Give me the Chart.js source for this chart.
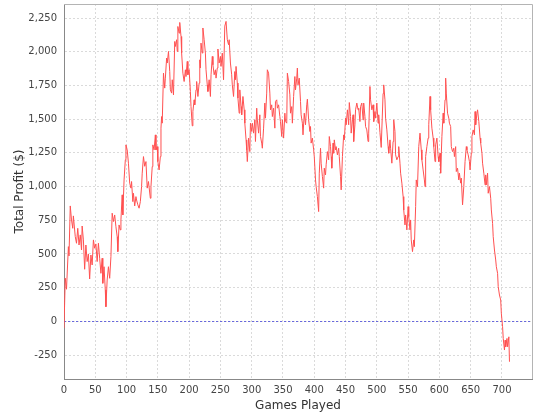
<!DOCTYPE html>
<html><head><meta charset="utf-8">
<script src="https://cdn.jsdelivr.net/npm/chart.js@4/dist/chart.umd.min.js"></script>
<style>html,body{margin:0;padding:0;background:#fff}</style>
</head><body>
<canvas id="c" width="540" height="420"></canvas>
<script>
const xTitle = 'Games Played';
const yTitle = 'Total Profit ($)';
const xTicks = [0,50,100,150,200,250,300,350,400,450,500,550,600,650,700];
const yTicks = [-250,0,250,500,750,1000,1250,1500,1750,2000,2250];

const games = [
0,2,4,7,8,10,12,14,15,18,20,22,24,26,28,29,31,33,35,37,39,41,43,45,47,49,51,53,55,57,59,61,62,64,66,67,69,71,73,75,77,79,81,83,85,86,88,90,91,93,94,96,98,99,
101,103,105,107,108,110,111,113,115,116,118,120,122,124,125,127,129,131,133,135,138,139,141,142,144,146,147,149,150,152,154,155,156,157,159,161,162,164,165,167,169,170,172,173,175,177,178,180,181,182,184,185,187,188,190,192,194,195,197,198,200,
202,203,205,206,208,209,211,212,214,216,217,218,219,221,222,224,226,227,229,230,232,234,235,237,238,240,242,243,245,246,248,250,251,253,255,257,259,261,263,264,266,268,269,271,273,274,275,277,278,280,281,283,284,286,288,289,291,292,293,295,297,298,300,
301,303,305,306,308,309,311,313,314,316,317,319,321,322,324,325,327,329,330,332,333,335,337,338,340,341,343,345,346,348,349,351,353,354,356,357,359,361,362,364,365,367,369,370,372,373,374,376,378,379,381,382,384,386,388,389,391,393,394,395,397,399,400,
402,403,405,407,408,410,411,413,415,416,418,419,421,423,424,426,427,428,430,431,432,434,435,437,439,440,442,443,445,447,448,450,451,453,455,456,458,459,461,462,463,465,466,468,470,471,473,474,476,478,479,481,482,484,486,487,489,490,492,494,495,497,498,500,
502,503,505,507,510,511,513,514,516,518,519,521,522,524,526,527,529,530,532,534,535,537,538,540,542,543,545,546,548,550,551,553,554,555,557,559,560,562,563,565,567,568,569,571,572,574,576,577,578,580,582,583,585,586,588,590,591,593,594,596,598,599,
601,602,604,606,607,609,610,611,613,615,616,618,619,621,623,624,626,627,629,631,632,634,635,637,639,641,643,644,646,648,649,651,652,654,656,657,658,660,661,663,665,666,668,669,671,673,674,675,677,678,680,682,683,685,686,688,690,691,693,694,696,698,699,
701,702,704,705,706,708,709,711,712
];
const profit = [
-50,320,238,554,485,856,752,690,782,628,579,690,566,641,529,707,604,386,566,443,500,314,492,418,604,542,574,443,579,468,356,468,282,405,232,108,306,405,319,480,802,740,789,702,628,517,715,678,752,938,789,1049,1198,1309,
1272,1173,1025,988,1037,888,950,856,925,900,864,839,888,1000,1099,1222,1150,1185,988,1037,913,999,1148,1309,1272,1383,1272,1296,1185,1123,1222,1433,1519,1470,1841,1730,1804,1953,1916,2002,1853,1717,1693,1792,1680,2076,2039,2089,2002,2187,2138,2217,2113,1990,1841,1779,1866,1816,1928,1829,1866,
1705,1593,1450,1556,1643,1606,1717,1779,1668,1767,1940,1879,2064,1990,2176,2089,1990,1866,1754,1705,1792,1668,1829,1965,1903,1829,1866,1804,1879,2020,1916,1965,1891,1990,1792,2190,2225,2089,2052,2089,1916,1829,1754,1668,1853,1792,1891,1767,1656,1544,1717,1593,1532,1668,1569,1470,1346,1272,1185,1359,1259,1470,1408,
1470,1396,1495,1334,1581,1495,1396,1532,1371,1322,1284,1433,1619,1507,1693,1866,1841,1693,1569,1606,1519,1581,1433,1631,1643,1581,1606,1519,1482,1371,1495,1359,1544,1482,1470,1841,1779,1680,1544,1593,1470,1668,1816,1717,1804,1879,1754,1804,1631,1532,1470,1383,1544,1458,1606,1648,1495,1408,1445,1322,1359,1272,1222,
1049,999,925,814,1099,1284,1173,1074,988,1136,1086,1161,1259,1198,1371,1296,1222,1136,1322,1247,1346,1272,1296,1235,1284,1222,1074,975,1222,1383,1346,1507,1458,1569,1458,1623,1520,1396,1495,1532,1334,1458,1569,1619,1569,1581,1482,1593,1619,1495,1619,1520,1445,1420,1334,1396,1742,1643,1569,1606,1482,1556,1507,1619,
1470,1532,1400,1290,1690,1754,1643,1507,1420,1296,1247,1346,1284,1173,1334,1495,1408,1235,1198,1222,1296,1173,1099,1025,925,826,715,789,678,851,777,678,752,604,517,604,554,851,1049,999,1296,1346,1396,1272,1198,1123,1049,999,1222,1296,1359,1458,1668,1569,1433,1359,1296,1185,1309,1359,1222,1185,
1247,1099,1371,1544,1470,1643,1804,1693,1544,1507,1470,1445,1296,1259,1284,1222,1296,1111,1136,1049,1099,1025,1062,864,1000,1185,1296,1272,1235,1185,1123,1247,1371,1420,1383,1556,1458,1544,1569,1482,1359,1322,1247,1173,1099,1012,1086,1012,1099,950,999,913,826,727,628,529,455,405,356,257,195,158,59,
-40,-127,-213,-140,-189,-127,-189,-115,-300
];

const points = games.map((g, i) => ({x: g, y: profit[i]}));

const plotFrame = {
  id: 'plotFrame',
  beforeDatasetsDraw(chart) {
    const {ctx, chartArea: a, scales: {y}} = chart;
    const zy = Math.round(y.getPixelForValue(0)) + 0.5;
    ctx.save();
    ctx.strokeStyle = 'rgba(90,90,220,0.9)';
    ctx.lineWidth = 1;
    ctx.setLineDash([2, 2]);
    ctx.beginPath();
    ctx.moveTo(a.left, zy);
    ctx.lineTo(a.right, zy);
    ctx.stroke();
    ctx.restore();
  },
  afterDraw(chart) {
    const {ctx, chartArea: a} = chart;
    ctx.save();
    ctx.strokeStyle = '#b4b4b4';
    ctx.lineWidth = 1;
    ctx.beginPath();
    ctx.moveTo(a.left, a.top + 0.5);
    ctx.lineTo(a.right + 0.5, a.top + 0.5);
    ctx.lineTo(a.right + 0.5, a.bottom);
    ctx.stroke();
    ctx.restore();
  }
};

const tickFont = {family: 'DejaVu Sans', size: 10};
const titleFont = {family: 'DejaVu Sans', size: 12};

new Chart(document.getElementById('c'), {
  type: 'line',
  data: {
    datasets: [{
      data: points,
      borderColor: '#ff5050',
      borderWidth: 1,
      pointRadius: 0,
      tension: 0,
      fill: false
    }]
  },
  options: {
    responsive: false,
    animation: false,
    devicePixelRatio: 1,
    layout: {padding: {top: 4, right: 8, left: 0, bottom: 0}},
    plugins: {legend: {display: false}, tooltip: {enabled: false}},
    scales: {
      x: {
        type: 'linear',
        min: 0, max: 748,
        afterFit(s) { s.height = 41; s.paddingLeft = 0; s.paddingRight = 0; },
        afterBuildTicks(s) { s.ticks = xTicks.map(v => ({value: v})); },
        ticks: {font: tickFont, color: '#444', padding: 5, maxRotation: 0, autoSkip: false},
        grid: {color: '#dadada', lineWidth: 1, drawTicks: false},
        border: {color: '#888', width: 1, dash: [2, 2]},
        title: {display: true, text: xTitle, font: titleFont, color: '#333', padding: {top: 0, bottom: 7}}
      },
      y: {
        type: 'linear',
        min: -428, max: 2354,
        afterFit(s) { s.width = 64; s.paddingTop = 0; s.paddingBottom = 0; },
        afterBuildTicks(s) { s.ticks = yTicks.map(v => ({value: v})); },
        ticks: {font: tickFont, color: '#444', padding: 7, autoSkip: false,
          callback: v => Number(v).toLocaleString('en-US')},
        grid: {color: '#dadada', lineWidth: 1, drawTicks: false},
        border: {color: '#888', width: 1, dash: [2, 2]},
        title: {display: true, text: yTitle, font: titleFont, color: '#333', padding: {top: 13, bottom: 0}}
      }
    }
  },
  plugins: [plotFrame]
});
</script>
</body></html>
